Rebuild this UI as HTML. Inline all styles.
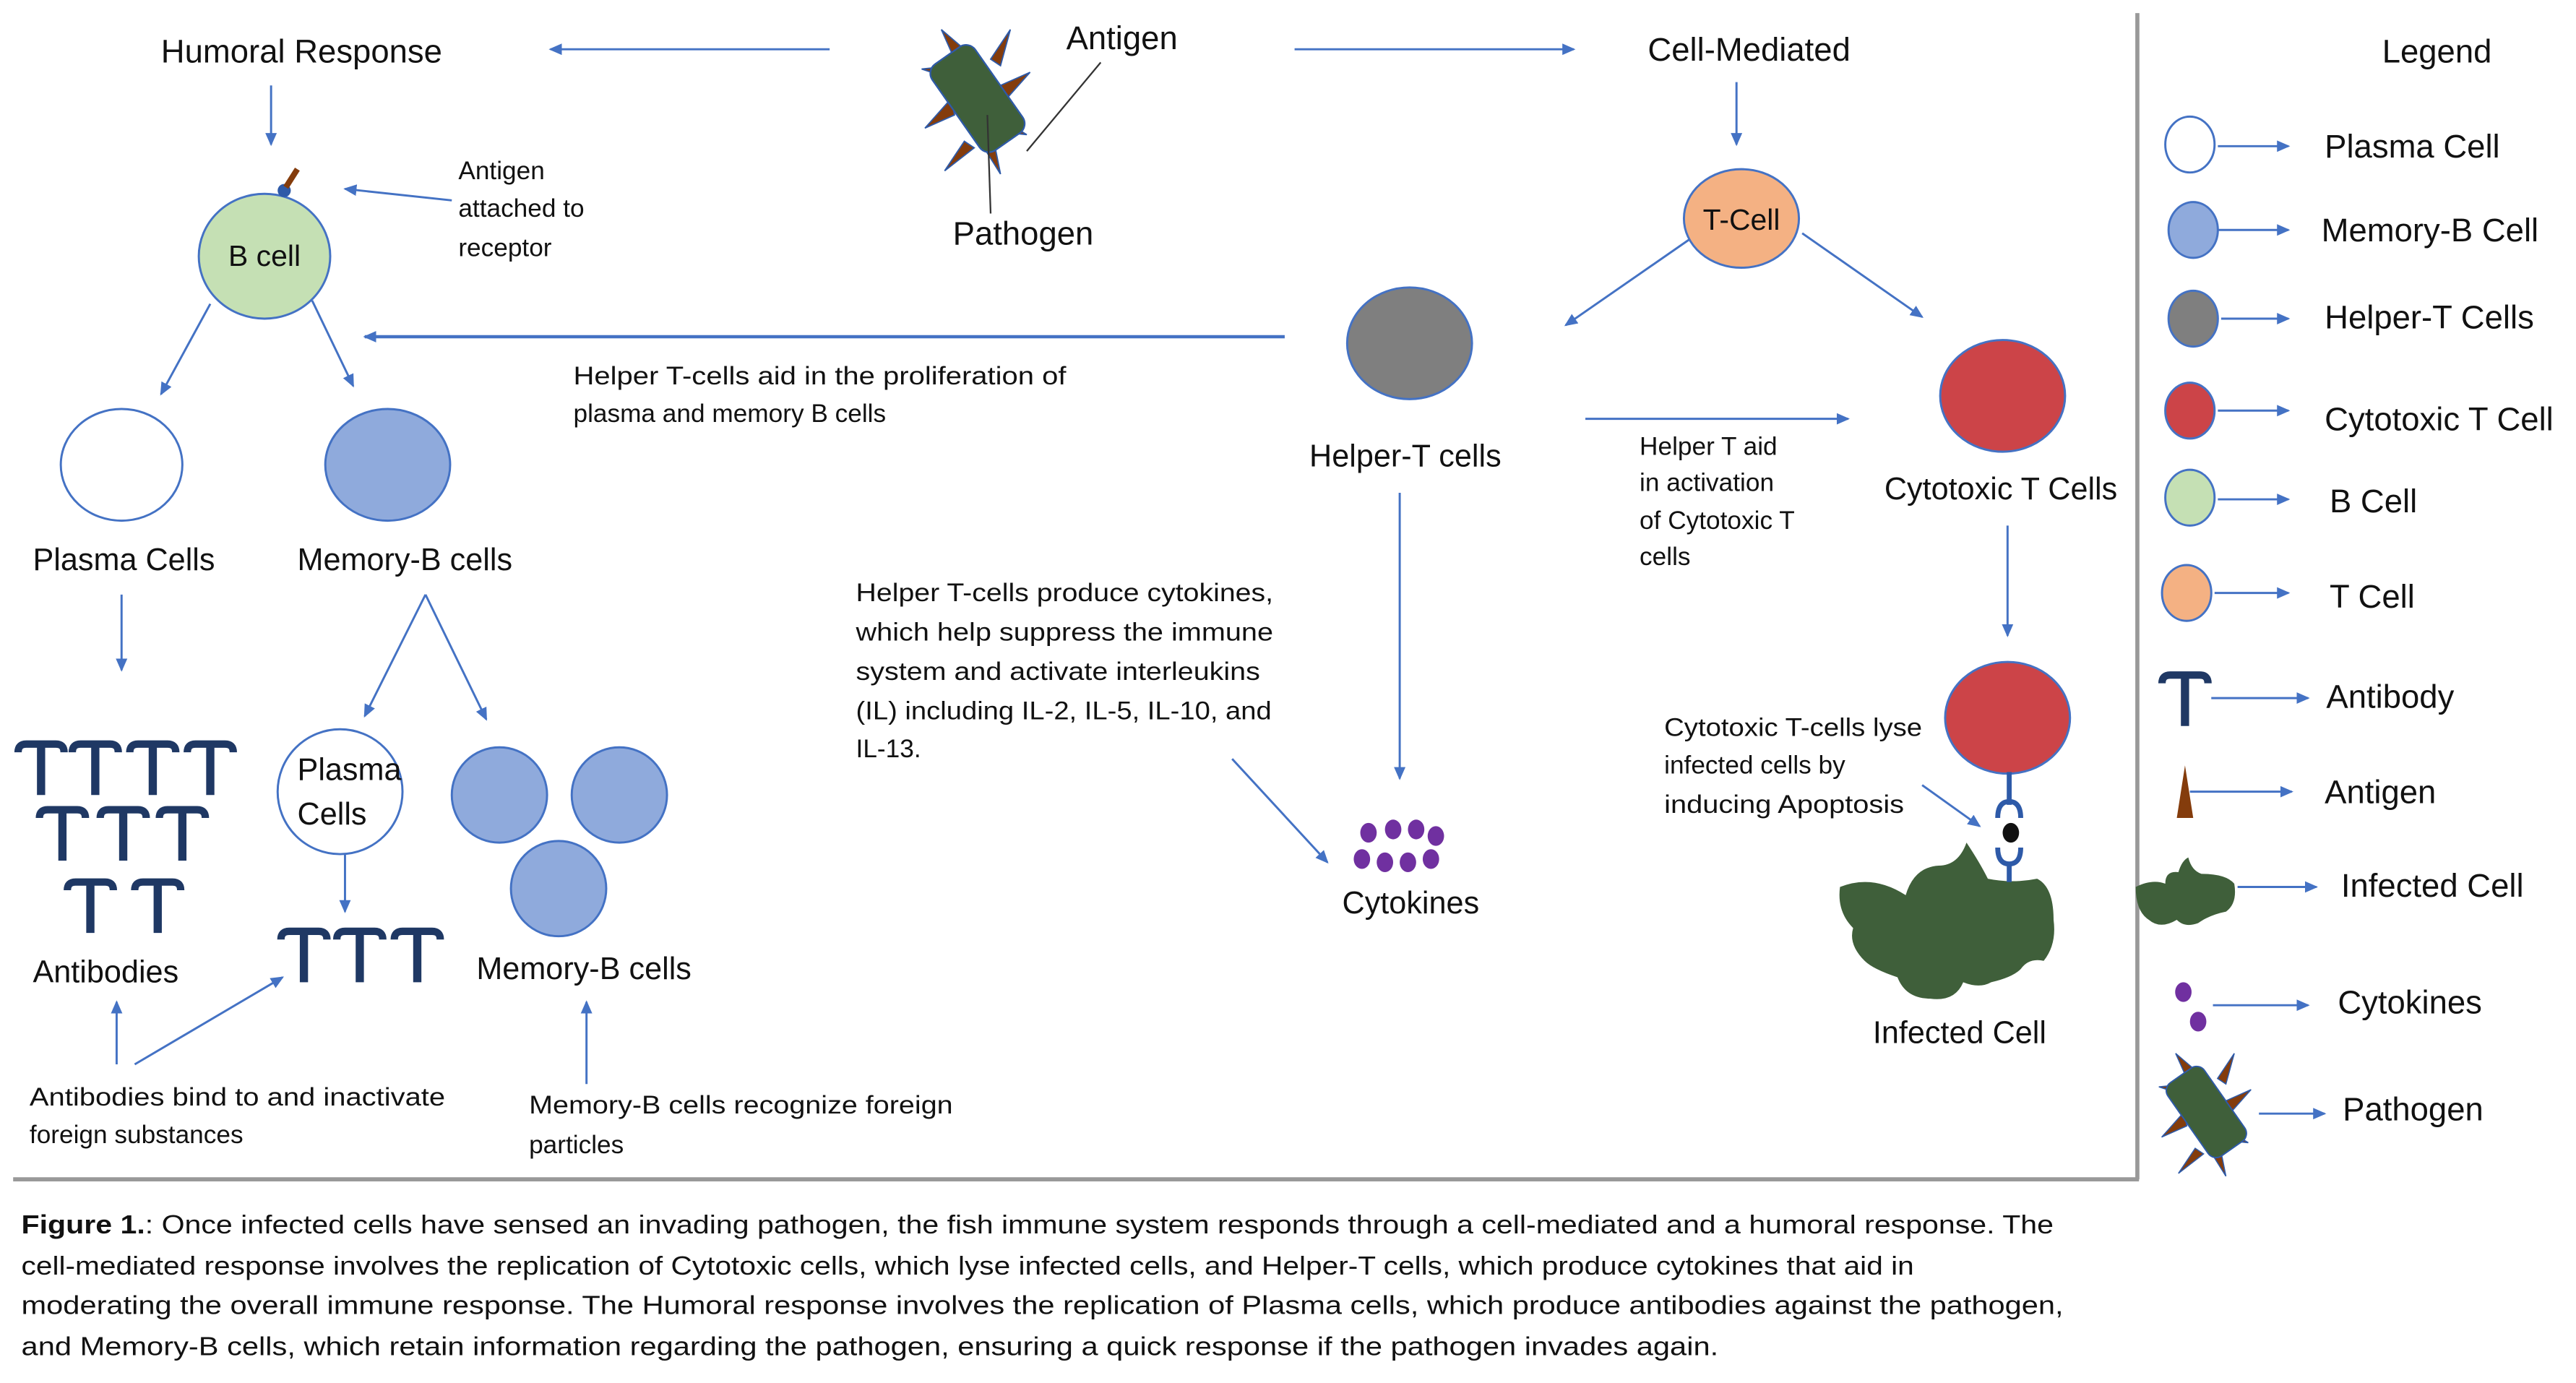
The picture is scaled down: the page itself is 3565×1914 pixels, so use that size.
<!DOCTYPE html>
<html><head><meta charset="utf-8"><style>
html,body{margin:0;padding:0;background:#fff}
svg{display:block}
text{font-family:"Liberation Sans",sans-serif;fill:#111}
</style></head><body>
<svg width="3565" height="1914" viewBox="0 0 1568 842" preserveAspectRatio="none" xmlns="http://www.w3.org/2000/svg">
<defs>
<marker id="ah" markerWidth="8" markerHeight="8" refX="7" refY="4" orient="auto" markerUnits="userSpaceOnUse">
<path d="M0,0.5 L8,4 L0,7.5 z" fill="#4472c4"/></marker>
<g id="ab"><path d="M-14,4 Q-14,-1 -9,-1 L9,-1 Q14,-1 14,4" fill="none" stroke="#1f3864" stroke-width="4.5"/><line x1="0" y1="-1" x2="0" y2="30" stroke="#1f3864" stroke-width="5"/></g>
<g id="path">
<g fill="#843c0c" stroke="#2e5aa8" stroke-width="0.8">
<polygon points="-8,-30 -22,-42 -14,-24"/><polygon points="8,-24 20,-42 14,-20"/><polygon points="14,-8 32,-16 16,2"/><polygon points="14,12 30,22 10,20"/><polygon points="-8,26 -20,44 -2,30"/><polygon points="-14,10 -32,18 -16,0"/><polygon points="-16,-12 -34,-18 -14,-20"/><polygon points="4,30 14,46 10,26"/>
</g>
<rect x="-16" y="-32" width="32" height="64" rx="7" fill="#3f5f3a" stroke="#2e5aa8" stroke-width="1" transform="rotate(-35)"/>
</g>
</defs>
<g stroke="#4472c4" stroke-width="1.3" fill="none" marker-end="url(#ah)">
<line x1="505" y1="30" x2="335" y2="30"/>
<line x1="788" y1="30" x2="958" y2="30"/>
<line x1="1057" y1="50" x2="1057" y2="88"/>
<line x1="1028" y1="146" x2="953" y2="198"/>
<line x1="1097" y1="142" x2="1170" y2="193"/>
<line x1="965" y1="255" x2="1125" y2="255"/>
<line x1="782" y1="205" x2="222" y2="205" stroke-width="2"/>
<line x1="275" y1="122" x2="210" y2="115"/>
<line x1="165" y1="52" x2="165" y2="88"/>
<line x1="128" y1="185" x2="98" y2="240"/>
<line x1="190" y1="183" x2="215" y2="235"/>
<line x1="74" y1="362" x2="74" y2="408"/>
<line x1="259" y1="362" x2="222" y2="436"/>
<line x1="259" y1="362" x2="296" y2="438"/>
<line x1="210" y1="520" x2="210" y2="555"/>
<line x1="71" y1="648" x2="71" y2="610"/>
<line x1="82" y1="648" x2="172" y2="595"/>
<line x1="357" y1="660" x2="357" y2="610"/>
<line x1="750" y1="462" x2="808" y2="525"/>
<line x1="852" y1="300" x2="852" y2="474"/>
<line x1="1222" y1="320" x2="1222" y2="387"/>
<line x1="1170" y1="478" x2="1205" y2="503"/>
<line x1="1350" y1="89" x2="1393" y2="89"/>
<line x1="1350" y1="140" x2="1393" y2="140"/>
<line x1="1352" y1="194" x2="1393" y2="194"/>
<line x1="1350" y1="250" x2="1393" y2="250"/>
<line x1="1350" y1="304" x2="1393" y2="304"/>
<line x1="1348" y1="361" x2="1393" y2="361"/>
<line x1="1346" y1="425" x2="1405" y2="425"/>
<line x1="1333" y1="482" x2="1395" y2="482"/>
<line x1="1362" y1="540" x2="1410" y2="540"/>
<line x1="1347" y1="612" x2="1405" y2="612"/>
<line x1="1375" y1="678" x2="1415" y2="678"/>
</g>
<g stroke="#999" stroke-width="2.5"><line x1="8" y1="718" x2="1302" y2="718"/><line x1="1301" y1="8" x2="1301" y2="718"/></g>
<!-- pathogen -->
<use href="#path" transform="translate(595,60)"/>
<line x1="670" y1="38" x2="625" y2="92" stroke="#333" stroke-width="1"/>
<line x1="601" y1="70" x2="603" y2="130" stroke="#333" stroke-width="1"/>
<!-- cells -->
<g stroke="#4472c4" stroke-width="1.3">
<ellipse cx="1060" cy="133" rx="35" ry="30" fill="#f4b183"/>
<ellipse cx="858" cy="209" rx="38" ry="34" fill="#7f7f7f"/>
<ellipse cx="1219" cy="241" rx="38" ry="34" fill="#cc4448"/>
<ellipse cx="161" cy="156" rx="40" ry="38" fill="#c5e0b4"/>
<ellipse cx="74" cy="283" rx="37" ry="34" fill="#fff"/>
<ellipse cx="236" cy="283" rx="38" ry="34" fill="#8faadc"/>
<circle cx="207" cy="482" r="38" fill="#fff"/>
<circle cx="304" cy="484" r="29" fill="#8faadc"/>
<circle cx="377" cy="484" r="29" fill="#8faadc"/>
<circle cx="340" cy="541" r="29" fill="#8faadc"/>
<ellipse cx="1222" cy="437" rx="38" ry="34" fill="#cc4448"/>
<ellipse cx="1333" cy="88" rx="15" ry="17" fill="#fff"/>
<ellipse cx="1335" cy="140" rx="15" ry="17" fill="#8faadc"/>
<ellipse cx="1335" cy="194" rx="15" ry="17" fill="#7f7f7f"/>
<ellipse cx="1333" cy="250" rx="15" ry="17" fill="#cc4448"/>
<ellipse cx="1333" cy="303" rx="15" ry="17" fill="#c5e0b4"/>
<ellipse cx="1331" cy="361" rx="15" ry="17" fill="#f4b183"/>
</g>
<!-- antigen on B cell -->
<circle cx="173" cy="116" r="4" fill="#2e5aa8"/><line x1="174" y1="114" x2="181" y2="103" stroke="#843c0c" stroke-width="3.5"/>
<!-- antibodies -->
<g>
<use href="#ab" x="25" y="454"/><use href="#ab" x="58" y="454"/><use href="#ab" x="93" y="454"/><use href="#ab" x="128" y="454"/>
<use href="#ab" x="38" y="494"/><use href="#ab" x="75" y="494"/><use href="#ab" x="111" y="494"/>
<use href="#ab" x="55" y="538"/><use href="#ab" x="96" y="538"/>
<use href="#ab" x="185" y="568"/><use href="#ab" x="219" y="568"/><use href="#ab" x="254" y="568"/>
<use href="#ab" x="1330" y="412" transform="translate(0,0)"/>
</g>
<!-- cytokines -->
<g fill="#7030a0"><ellipse cx="833" cy="507" rx="5" ry="6"/><ellipse cx="848" cy="505" rx="5" ry="6"/><ellipse cx="862" cy="505" rx="5" ry="6"/><ellipse cx="874" cy="509" rx="5" ry="6"/><ellipse cx="829" cy="523" rx="5" ry="6"/><ellipse cx="843" cy="525" rx="5" ry="6"/><ellipse cx="857" cy="525" rx="5" ry="6"/><ellipse cx="871" cy="523" rx="5" ry="6"/>
<ellipse cx="1329" cy="604" rx="5" ry="6"/><ellipse cx="1338" cy="622" rx="5" ry="6"/></g>
<!-- infected cell + receptor -->
<path d="M1120,540 Q1140,532 1160,545 Q1165,528 1180,527 Q1192,527 1197,513 Q1205,525 1210,535 Q1225,538 1240,535 Q1250,540 1250,560 Q1252,575 1244,585 Q1235,583 1230,590 Q1225,595 1212,598 Q1205,602 1195,598 Q1190,610 1175,608 Q1160,608 1155,595 Q1140,590 1135,585 Q1125,575 1128,565 Q1118,555 1120,540z" fill="#3f5f3a"/>
<line x1="1223" y1="470" x2="1223" y2="490" stroke="#2e5aa8" stroke-width="3"/>
<path d="M1216,498 Q1216,488 1223,488 Q1230,488 1230,498" fill="none" stroke="#2e5aa8" stroke-width="3"/>
<ellipse cx="1224" cy="507" rx="5" ry="6" fill="#111"/>
<path d="M1216,516 Q1216,526 1223,526 Q1230,526 1230,516" fill="none" stroke="#2e5aa8" stroke-width="3"/>
<line x1="1223" y1="526" x2="1223" y2="537" stroke="#2e5aa8" stroke-width="3"/>
<!-- legend icons -->
<polygon points="1325,498 1335,498 1330,466" fill="#843c0c"/>
<path d="M1300,540 Q1310,535 1318,538 Q1318,530 1326,531 Q1328,524 1332,522 Q1334,530 1340,532 Q1355,532 1360,538 Q1362,550 1355,555 Q1345,557 1338,562 Q1330,565 1325,560 Q1315,566 1308,560 Q1300,555 1300,540z" fill="#3f5f3a"/>
<use href="#path" transform="translate(1343,677) scale(0.85)"/>
<!-- texts -->
<g font-size="20">
<text x="98" y="38">Humoral Response</text>
<text x="649" y="30">Antigen</text>
<text x="580" y="149">Pathogen</text>
<text x="1003" y="37">Cell-Mediated</text>
<text x="1060" y="140" text-anchor="middle" font-size="18">T-Cell</text>
<text x="161" y="162" text-anchor="middle" font-size="18">B cell</text>
<text x="797" y="284" font-size="19">Helper-T cells</text>
<text x="1147" y="304" font-size="19">Cytotoxic T Cells</text>
<text x="20" y="347" font-size="19">Plasma Cells</text>
<text x="181" y="347" font-size="19">Memory-B cells</text>
<text x="181" y="475" font-size="19">Plasma</text>
<text x="181" y="502" font-size="19">Cells</text>
<text x="20" y="598" font-size="19">Antibodies</text>
<text x="290" y="596" font-size="19">Memory-B cells</text>
<text x="817" y="556" font-size="19">Cytokines</text>
<text x="1140" y="635" font-size="19">Infected Cell</text>
<text x="1450" y="38">Legend</text>
<text x="1415" y="96">Plasma Cell</text>
<text x="1413" y="147">Memory-B Cell</text>
<text x="1415" y="200">Helper-T Cells</text>
<text x="1415" y="262">Cytotoxic T Cell</text>
<text x="1418" y="312">B Cell</text>
<text x="1418" y="370">T Cell</text>
<text x="1416" y="431">Antibody</text>
<text x="1415" y="489">Antigen</text>
<text x="1425" y="546">Infected Cell</text>
<text x="1423" y="617">Cytokines</text>
<text x="1426" y="682">Pathogen</text>
</g>
<g font-size="15.5">
<text x="279" y="109">Antigen</text><text x="279" y="132">attached to</text><text x="279" y="156">receptor</text>
<text x="349" y="234" textLength="300" lengthAdjust="spacingAndGlyphs">Helper T-cells aid in the proliferation of</text>
<text x="349" y="257">plasma and memory B cells</text>
<text x="998" y="277">Helper T aid</text><text x="998" y="299">in activation</text><text x="998" y="322">of Cytotoxic T</text><text x="998" y="344">cells</text>
<text x="521" y="366" textLength="254" lengthAdjust="spacingAndGlyphs">Helper T-cells produce cytokines,</text>
<text x="521" y="390" textLength="254" lengthAdjust="spacingAndGlyphs">which help suppress the immune</text>
<text x="521" y="414" textLength="246" lengthAdjust="spacingAndGlyphs">system and activate interleukins</text>
<text x="521" y="438" textLength="253" lengthAdjust="spacingAndGlyphs">(IL) including IL-2, IL-5, IL-10, and</text>
<text x="521" y="461">IL-13.</text>
<text x="1013" y="448" textLength="157" lengthAdjust="spacingAndGlyphs">Cytotoxic T-cells lyse</text>
<text x="1013" y="471">infected cells by</text>
<text x="1013" y="495" textLength="146" lengthAdjust="spacingAndGlyphs">inducing Apoptosis</text>
<text x="18" y="673" textLength="253" lengthAdjust="spacingAndGlyphs">Antibodies bind to and inactivate</text>
<text x="18" y="696">foreign substances</text>
<text x="322" y="678" textLength="258" lengthAdjust="spacingAndGlyphs">Memory-B cells recognize foreign</text>
<text x="322" y="702">particles</text>
</g>
<g font-size="16">
<text x="13" y="751" textLength="1237" lengthAdjust="spacingAndGlyphs"><tspan font-weight="bold">Figure 1.</tspan>: Once infected cells have sensed an invading pathogen, the fish immune system responds through a cell-mediated and a humoral response. The</text>
<text x="13" y="776" textLength="1152" lengthAdjust="spacingAndGlyphs">cell-mediated response involves the replication of Cytotoxic cells, which lyse infected cells, and Helper-T cells, which produce cytokines that aid in</text>
<text x="13" y="800" textLength="1243" lengthAdjust="spacingAndGlyphs">moderating the overall immune response. The Humoral response involves the replication of Plasma cells, which produce antibodies against the pathogen,</text>
<text x="13" y="825" textLength="1033" lengthAdjust="spacingAndGlyphs">and Memory-B cells, which retain information regarding the pathogen, ensuring a quick response if the pathogen invades again.</text>
</g>
</svg>
</body></html>
